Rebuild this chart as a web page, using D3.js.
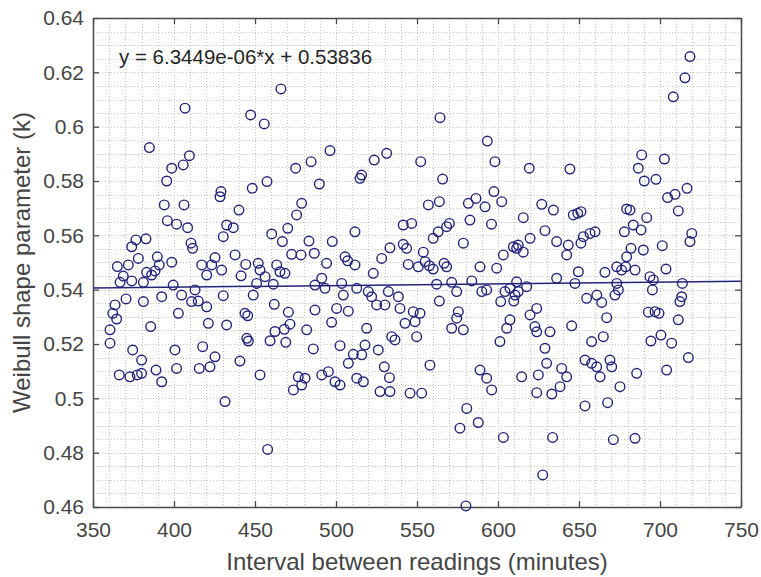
<!DOCTYPE html>
<html>
<head>
<meta charset="utf-8">
<script src="https://cdn.jsdelivr.net/npm/d3@7"></script>
<style>
  body { margin: 0; background: #fff; }
  text { font-family: "Liberation Sans", Arial, sans-serif; }
</style>
</head>
<body>
<div id="chart"></div>
<script>
// readings: [interval (minutes), Weibull k]
const readings = [
  [384.8,0.5923],[406.8,0.6068],[409.5,0.5893],[405.7,0.5859],[398.6,0.5847],[395.5,0.5800],[429.0,0.5761],
  [466.0,0.6139],[447.3,0.6043],[455.7,0.6010],[496.3,0.5912],[484.6,0.5871],[475.1,0.5847],[489.7,0.5789],
  [457.4,0.5798],[448.3,0.5773],[514.8,0.5810],[515.8,0.5822],[523.6,0.5877],[531.3,0.5902],
  [564.2,0.6033],[593.4,0.5947],[598.1,0.5871],[552.3,0.5871],[619.3,0.5847],[565.8,0.5807],[597.5,0.5761],
  [718.5,0.6258],[715.4,0.6180],[708.2,0.6110],[644.4,0.5844],[688.7,0.5896],[686.6,0.5847],[702.7,0.5881],
  [690.3,0.5800],[697.5,0.5806],[716.7,0.5773],[709.3,0.5751],[704.7,0.5739],
  // 360-430
  [394.0,0.5712],[406.2,0.5712],[395.9,0.5654],[401.6,0.5641],[408.4,0.5628],[430.4,0.5595],[432.5,0.5638],
  [428.4,0.5742],[376.5,0.5583],[382.7,0.5587],[373.9,0.5558],[410.5,0.5571],[411.5,0.5552],[378.0,0.5515],
  [389.7,0.5521],[365.0,0.5485],[371.8,0.5491],[390.9,0.5491],[398.6,0.5501],[383.1,0.5464],[388.3,0.5469],
  [368.7,0.5450],[373.9,0.5432],[366.7,0.5427],[381.1,0.5427],[386.2,0.5454],[425.3,0.5518],[423.3,0.5491],
  [429.4,0.5472],[417.1,0.5491],[420.2,0.5454],[399.5,0.5417],[413.0,0.5399],[404.7,0.5380],[410.9,0.5356],
  [415.0,0.5358],[392.4,0.5374],[420.2,0.5337],[430.4,0.5378],[381.1,0.5356],[370.4,0.5366],[363.6,0.5344],
  [362.2,0.5313],[364.6,0.5292],[402.7,0.5313],[385.6,0.5264],[421.2,0.5276],[360.5,0.5252],[360.5,0.5203],
  [374.5,0.5178],[380.0,0.5141],[400.6,0.5178],[417.7,0.5190],[425.3,0.5153],[432.5,0.5270],[366.2,0.5086],
  [372.8,0.5079],[377.3,0.5086],[380.0,0.5092],[388.9,0.5104],[401.6,0.5110],[415.6,0.5110],[422.2,0.5116],
  [392.4,0.5061],[431.5,0.4988],
  // 430-535
  [478.8,0.5718],[475.7,0.5675],[440.1,0.5693],[436.6,0.5628],[460.3,0.5605],[470.2,0.5626],[466.9,0.5577],
  [483.3,0.5579],[497.7,0.5577],[511.7,0.5613],[533.3,0.5554],[472.6,0.5530],[478.4,0.5528],[486.6,0.5534],
  [437.7,0.5528],[505.6,0.5521],[507.2,0.5506],[528.2,0.5515],[494.2,0.5497],[511.7,0.5491],[444.3,0.5493],
  [452.0,0.5497],[453.1,0.5472],[463.4,0.5491],[465.4,0.5466],[468.5,0.5460],[441.4,0.5451],[456.2,0.5448],
  [451.0,0.5423],[461.3,0.5420],[523.0,0.5460],[487.0,0.5417],[491.2,0.5442],[493.2,0.5405],[503.5,0.5423],
  [504.5,0.5380],[512.8,0.5405],[519.9,0.5393],[522.0,0.5374],[525.1,0.5344],[532.3,0.5393],[448.9,0.5380],
  [461.9,0.5346],[530.2,0.5344],[487.0,0.5325],[500.4,0.5331],[507.6,0.5321],[470.6,0.5317],[443.8,0.5313],
  [445.5,0.5304],[471.6,0.5273],[468.1,0.5254],[497.3,0.5280],[462.3,0.5246],[481.9,0.5252],[518.9,0.5258],
  [444.9,0.5221],[445.9,0.5211],[459.3,0.5212],[469.0,0.5206],[534.4,0.5227],[502.5,0.5194],[486.0,0.5182],
  [517.9,0.5196],[526.1,0.5178],[510.7,0.5162],[515.9,0.5160],[507.6,0.5129],[440.7,0.5137],[529.8,0.5116],
  [453.1,0.5086],[476.7,0.5079],[480.9,0.5074],[491.2,0.5086],[495.3,0.5098],[499.4,0.5061],[512.8,0.5074],
  [516.9,0.5061],[533.0,0.5076],[457.8,0.4812],[473.7,0.5031],[478.8,0.5049],[502.5,0.5049],[527.2,0.5025],
  [533.3,0.5025],
  // 535-635
  [557.0,0.5712],[563.8,0.5724],[581.7,0.5718],[586.4,0.5736],[592.0,0.5705],[602.3,0.5724],[627.0,0.5714],
  [634.2,0.5693],[615.6,0.5665],[541.5,0.5638],[546.7,0.5644],[582.7,0.5656],[596.0,0.5641],[568.3,0.5632],
  [570.0,0.5644],[563.1,0.5613],[560.0,0.5589],[629.0,0.5617],[578.6,0.5571],[619.8,0.5589],[541.5,0.5567],
  [543.6,0.5552],[609.5,0.5558],[611.5,0.5552],[612.5,0.5564],[615.6,0.5538],[603.3,0.5528],[636.2,0.5577],
  [553.9,0.5538],[544.6,0.5493],[550.8,0.5484],[555.0,0.5503],[557.6,0.5488],[560.0,0.5476],[566.7,0.5497],
  [568.3,0.5484],[588.9,0.5484],[599.2,0.5479],[562.1,0.5420],[571.4,0.5427],[574.5,0.5393],[583.8,0.5432],
  [590.0,0.5393],[593.0,0.5399],[604.3,0.5393],[607.4,0.5405],[611.5,0.5429],[612.5,0.5393],[610.5,0.5380],
  [617.7,0.5411],[636.2,0.5442],[538.5,0.5374],[563.8,0.5358],[601.7,0.5356],[609.7,0.5358],[539.5,0.5331],
  [547.7,0.5319],[551.9,0.5313],[548.8,0.5282],[575.5,0.5319],[574.5,0.5295],[542.6,0.5276],[607.4,0.5289],
  [619.8,0.5307],[623.9,0.5331],[571.4,0.5258],[578.6,0.5252],[605.4,0.5258],[622.8,0.5264],[623.9,0.5245],
  [632.1,0.5245],[536.4,0.5215],[549.8,0.5227],[601.2,0.5209],[629.0,0.5184],[558.0,0.5122],[630.0,0.5129],
  [588.9,0.5104],[593.0,0.5074],[614.6,0.5079],[624.9,0.5086],
  [545.7,0.5019],[552.9,0.5019],[596.1,0.5031],[623.9,0.5021],[633.2,0.5016],[580.7,0.4963],[576.5,0.4890],
  [587.8,0.4911],[603.3,0.4856],[633.7,0.4856],[627.6,0.4718],[580.2,0.4604],
  // 635-720
  [711.3,0.5690],[646.5,0.5675],[649.2,0.5681],[651.2,0.5687],[679.4,0.5697],[681.5,0.5693],[691.8,0.5665],
  [678.0,0.5613],[683.5,0.5638],[688.3,0.5620],[719.6,0.5607],[718.5,0.5577],[652.7,0.5595],[656.8,0.5607],
  [659.9,0.5613],[643.4,0.5564],[642.4,0.5528],[651.2,0.5571],[682.1,0.5552],[679.4,0.5521],[689.7,0.5546],
  [701.4,0.5562],[703.7,0.5476],[673.3,0.5484],[676.3,0.5472],[684.6,0.5472],[678.8,0.5484],[666.0,0.5464],
  [649.6,0.5466],[647.5,0.5423],[693.8,0.5448],[695.9,0.5436],[695.3,0.5399],[713.8,0.5423],[673.3,0.5423],
  [674.3,0.5399],[672.2,0.5380],[654.7,0.5368],[661.0,0.5380],[664.0,0.5353],[713.4,0.5374],[712.3,0.5356],
  [711.3,0.5289],[692.8,0.5317],[696.9,0.5319],[699.4,0.5313],[667.1,0.5297],[645.5,0.5267],[657.8,0.5209],
  [665.0,0.5227],[694.4,0.5211],[700.6,0.5233],[707.2,0.5203],[717.5,0.5150],[653.7,0.5141],[657.8,0.5129],
  [660.9,0.5116],[669.1,0.5141],[670.2,0.5116],[639.3,0.5110],[642.4,0.5079],[663.0,0.5079],[685.6,0.5092],
  [704.1,0.5104],[638.3,0.5043],[675.3,0.5043],[653.7,0.4972],[667.7,0.4984],[671.2,0.4848],[684.6,0.4853]
];

const xTicks = [350, 400, 450, 500, 550, 600, 650, 700, 750];
const yTicks = [0.46, 0.48, 0.5, 0.52, 0.54, 0.56, 0.58, 0.6, 0.62, 0.64];
const yTickLabels = ["0.46", "0.48", "0.5", "0.52", "0.54", "0.56", "0.58", "0.6", "0.62", "0.64"];

const fitSlope = 6.3449e-06;
const fitIntercept = 0.53836;
const fitText = "y = 6.3449e-06*x + 0.53836";

const xTitle = "Interval between readings (minutes)";
const yTitle = "Weibull shape parameter (k)";

// layout
const width = 761, height = 577;
const plotLeft = 93, plotTop = 18, plotRight = 741, plotBottom = 507;
const ink = "#24247c";
const axisColor = "#4a4a4a";

const x = d3.scaleLinear().domain([350, 750]).range([plotLeft, plotRight]);
const y = d3.scaleLinear().domain([0.46, 0.64]).range([plotBottom, plotTop]);

const svg = d3.select("#chart").append("svg")
    .attr("width", width)
    .attr("height", height);

svg.append("rect").attr("width", width).attr("height", height).attr("fill", "#fff");

// dotted grid (minor + major)
const grid = svg.append("g").attr("stroke", "#c6c6c6").attr("stroke-width", 1)
    .attr("stroke-dasharray", "1,2");
grid.selectAll(".gx").data(d3.range(360, 750, 10)).enter().append("line")
    .attr("x1", d => Math.round(x(d)) + 0.5).attr("x2", d => Math.round(x(d)) + 0.5)
    .attr("y1", plotTop).attr("y2", plotBottom);
grid.selectAll(".gy").data(d3.range(1, 36).map(i => 0.46 + i * 0.005)).enter().append("line")
    .attr("y1", d => Math.round(y(d)) + 0.5).attr("y2", d => Math.round(y(d)) + 0.5)
    .attr("x1", plotLeft).attr("x2", plotRight);

// axes
const fs = "21px";
const xAxis = svg.append("g")
    .attr("transform", `translate(0,${plotBottom})`)
    .style("color", axisColor)
    .call(d3.axisBottom(x).tickValues(xTicks).tickSizeInner(-6).tickSizeOuter(0).tickPadding(15));
xAxis.selectAll("text").style("font-size", fs).attr("fill", "#454545");

const yAxis = svg.append("g")
    .attr("transform", `translate(${plotLeft},0)`)
    .style("color", axisColor)
    .call(d3.axisLeft(y).tickValues(yTicks).tickFormat((d, i) => yTickLabels[i])
        .tickSizeInner(-6).tickSizeOuter(0).tickPadding(9));
yAxis.selectAll("text").style("font-size", fs).attr("fill", "#454545");

svg.append("g").attr("transform", `translate(0,${plotTop})`).style("color", axisColor)
    .call(d3.axisTop(x).tickValues(xTicks).tickSizeInner(-6).tickSizeOuter(0).tickFormat(""));
svg.append("g").attr("transform", `translate(${plotRight},0)`).style("color", axisColor)
    .call(d3.axisRight(y).tickValues(yTicks).tickSizeInner(-6).tickSizeOuter(0).tickFormat(""));

svg.selectAll(".domain").attr("stroke-width", 1.5);
svg.selectAll(".tick line").attr("stroke-width", 1.3);

// regression line
svg.append("line")
    .attr("x1", x(350)).attr("y1", y(fitSlope * 350 + fitIntercept))
    .attr("x2", x(750)).attr("y2", y(fitSlope * 750 + fitIntercept))
    .attr("stroke", ink).attr("stroke-width", 1.5);

// circles
svg.append("g").selectAll("circle")
    .data(readings)
    .enter()
    .append("circle")
    .attr("cx", d => x(d[0]))
    .attr("cy", d => y(d[1]))
    .attr("r", 4.8)
    .attr("fill", "none")
    .attr("stroke", ink)
    .attr("stroke-width", 1.4);

// equation
svg.append("text")
    .attr("x", 119).attr("y", 64)
    .style("font-size", "20.5px")
    .attr("fill", "#262626")
    .text(fitText);

// titles
svg.append("text")
    .attr("x", (plotLeft + plotRight) / 2).attr("y", 570)
    .attr("text-anchor", "middle")
    .style("font-size", "24px")
    .attr("fill", "#454545")
    .text(xTitle);

svg.append("text")
    .attr("transform", `translate(30,${(plotTop + plotBottom) / 2}) rotate(-90)`)
    .attr("text-anchor", "middle")
    .style("font-size", "24px")
    .attr("fill", "#454545")
    .text(yTitle);
</script>
</body>
</html>
